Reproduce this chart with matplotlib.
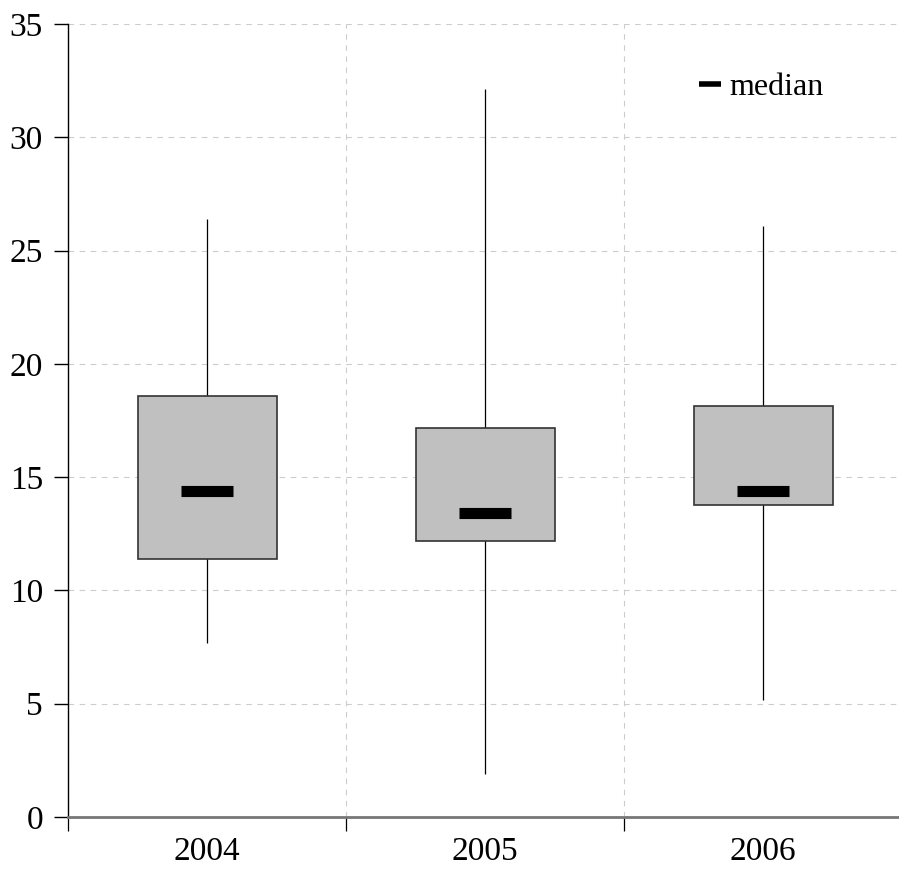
import matplotlib.pyplot as plt
from matplotlib.lines import Line2D

plt.rcParams['font.family'] = ['Liberation Serif', 'DejaVu Serif']

years = ['2004', '2005', '2006']
whisker_low = [7.7, 1.9, 5.15]
q1 = [11.4, 12.2, 13.75]
median = [14.4, 13.4, 14.4]
q3 = [18.6, 17.15, 18.15]
whisker_high = [26.4, 32.15, 26.1]

fig = plt.figure(figsize=(8.99, 8.77), dpi=100)
ax = fig.add_axes([68/899, 60/877, 834/899, 793/877])

x = list(range(len(years)))
heights = [h - l for l, h in zip(q1, q3)]

# whiskers behind the boxes
ax.vlines(x, whisker_low, whisker_high, color='black', lw=0.9, zorder=2)
ax.bar(x, heights, bottom=q1, width=0.5, color='#c0c0c0',
       edgecolor='#333333', linewidth=1.2, zorder=3)
ax.hlines(median, [i - 0.092 for i in x], [i + 0.092 for i in x],
          color='black', lw=8, capstyle='butt', zorder=4)

ax.set_xlim(-0.5, 2.5)
ax.set_ylim(0, 35)
ax.set_yticks(range(0, 36, 5))
ax.set_xticks(x)
ax.set_xticklabels(years)
ax.set_xticks([-0.5, 0.5, 1.5], minor=True)
ax.tick_params(axis='x', which='major', length=0, pad=14, labelsize=24)
ax.tick_params(axis='x', which='minor', length=10, width=0.9, direction='out')
ax.tick_params(axis='y', length=10, width=1.0, pad=8, labelsize=24)

ax.grid(True, axis='y', which='major', ls=(0, (5, 5)), color='#cccccc', lw=0.8)
ax.grid(True, axis='x', which='minor', ls=(0, (5, 5)), color='#cccccc', lw=0.8)
ax.set_axisbelow(True)

for s in ['top', 'right']:
    ax.spines[s].set_visible(False)
ax.spines['left'].set_linewidth(1.0)
ax.spines['bottom'].set_color('#777777')
ax.spines['bottom'].set_linewidth(2)

handle = Line2D([], [], color='black', lw=4, solid_capstyle='butt')
ax.legend([handle], ['median'], loc='upper right', bbox_to_anchor=(0.94, 0.975),
          frameon=False, fontsize=23, handlelength=0.7, handletextpad=0.25)

fig.savefig('out.png', dpi=100)
